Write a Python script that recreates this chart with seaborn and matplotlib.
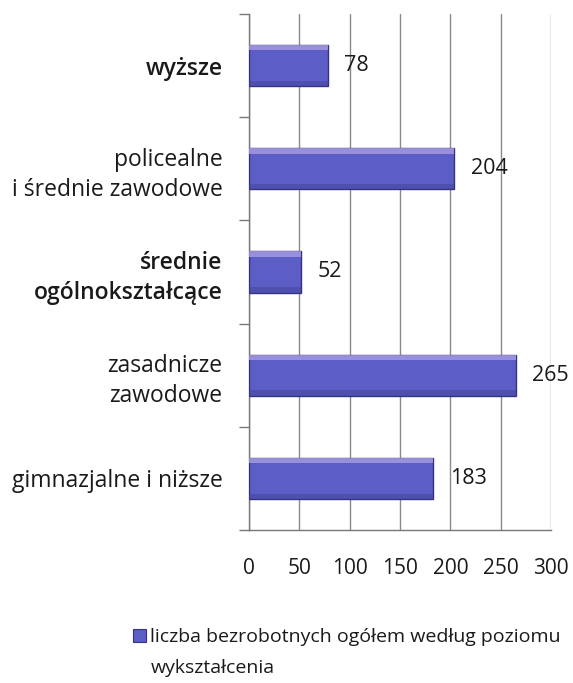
import matplotlib
matplotlib.use("Agg")
import matplotlib.pyplot as plt
import seaborn as sns
import numpy as np
import pandas as pd
from matplotlib.patches import Rectangle, Patch
from matplotlib.ticker import FixedLocator, MultipleLocator

categories = ["wyższe", "policealne\ni średnie zawodowe", "średnie\nogólnokształcące",
              "zasadnicze\nzawodowe", "gimnazjalne i niższe"]
values = [78, 204, 52, 265, 183]
bold_labels = ["wyższe", "średnie\nogólnokształcące"]
xticks = [0, 50, 100, 150, 200, 250, 300]
legend_line1 = "liczba bezrobotnych ogółem według poziomu"
legend_line2 = "wykształcenia"

sns.set_theme(style="white")
plt.rcParams['font.family'] = ['Open Sans', 'DejaVu Sans']

BAR = "#5d5dc6"
EDGE = "#34347e"
TXT = "#1a1a1a"

df = pd.DataFrame({"kat": categories, "val": values})

fig = plt.figure(figsize=(5.73, 6.83), dpi=100)
ax = fig.add_axes([249/573, 1-530/683, (551-249)/573, (530-14)/683])

sns.barplot(data=df, x="val", y="kat", orient="h", color=BAR, width=0.4,
            edgecolor=EDGE, linewidth=1.0, saturation=1, ax=ax, zorder=3)

# light bevel band on top of bars
for p in ax.patches:
    x, y, w, h = p.get_x(), p.get_y(), p.get_width(), p.get_height()
    ax.add_patch(Rectangle((x, y), w, h*0.13, facecolor="#a39ae0", edgecolor="none",
                           alpha=0.85, zorder=4))
    ax.add_patch(Rectangle((x, y + h*0.87), w, h*0.13, facecolor="#42429a", edgecolor="none",
                           alpha=0.5, zorder=4))

ax.set_xlim(0, 300)
ax.set_ylim(len(categories) - 0.5, -0.5)
ax.set_xlabel("")
ax.set_ylabel("")

ax.xaxis.set_major_locator(FixedLocator(xticks))
ax.set_xticklabels([str(t) for t in xticks], fontsize=15, color=TXT)
ax.tick_params(axis="x", direction="out", length=6, width=1, color="#777777", pad=14)
ax.grid(axis="x", color="#8a8a8a", linewidth=1.0, zorder=0)
ax.set_axisbelow(True)

ax.set_yticks(range(len(categories)))
ax.set_yticklabels(categories, fontsize=16.5, color=TXT, ha="right", multialignment="right")
ax.yaxis.set_minor_locator(MultipleLocator(1, offset=0.5))
ax.tick_params(axis="y", which="major", length=0, pad=19)
ax.tick_params(axis="y", which="minor", direction="out", length=7, width=1, color="#777777", left=True)
for lab in ax.get_yticklabels():
    lab.set_linespacing(1.35)
    if lab.get_text() in bold_labels:
        lab.set_fontweight("semibold")

for s in ["top", "right"]:
    ax.spines[s].set_visible(False)
for s in ["left", "bottom"]:
    ax.spines[s].set_color("#777777")
    ax.spines[s].set_linewidth(1.0)

for cont in ax.containers:
    ax.bar_label(cont, labels=[str(v) for v in values], padding=12, fontsize=15.5, color=TXT)

handle = Patch(facecolor=BAR, edgecolor=EDGE, linewidth=0.8)
leg = fig.legend([handle], [legend_line1], loc="upper left",
                 bbox_to_anchor=(133/573, 1-628/683), frameon=False,
                 fontsize=14, handlelength=0.65, handleheight=0.65, handletextpad=0.25,
                 borderaxespad=0, borderpad=0)
for t in leg.get_texts():
    t.set_color(TXT)

fig.canvas.draw()
bb = leg.get_texts()[0].get_window_extent(fig.canvas.get_renderer())
fig.text(bb.x0, bb.y0 - 31, legend_line2, transform=None, fontsize=14, color=TXT,
         ha="left", va="bottom")

fig.savefig("out.png", dpi=100)
